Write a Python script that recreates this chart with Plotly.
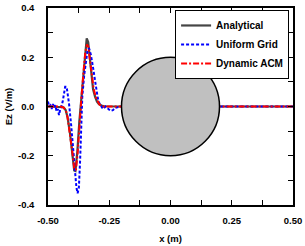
import plotly.graph_objects as go

# Analytical
x_analytical = [-0.50, -0.45, -0.437, -0.428, -0.42, -0.41, -0.40, -0.393, -0.388, -0.38, -0.372,
                -0.364, -0.356, -0.348, -0.342, -0.336, -0.330, -0.324, -0.316, -0.308, -0.300,
                -0.292, -0.282, -0.27, -0.20, 0.20, 0.50]
y_analytical = [0.0, 0.0, -0.003, -0.014, -0.045, -0.11, -0.20, -0.26, -0.262, -0.18, -0.06,
                0.03, 0.14, 0.24, 0.277, 0.262, 0.20, 0.13, 0.07, 0.04, 0.02,
                0.01, 0.004, 0.001, 0.0, 0.0, 0.0]

# Uniform Grid
x_uniform = [-0.50, -0.495, -0.49, -0.485, -0.48, -0.475, -0.47, -0.465, -0.46, -0.455, -0.45,
             -0.445, -0.44, -0.435, -0.43, -0.424, -0.419, -0.414, -0.405, -0.397, -0.39,
             -0.384, -0.379, -0.374, -0.369, -0.365, -0.36, -0.352, -0.344, -0.338, -0.332,
             -0.325, -0.318, -0.311, -0.304, -0.297, -0.29, -0.283, -0.275, -0.265, -0.255,
             -0.245, -0.235, -0.225, -0.20, 0.20, 0.50]
y_uniform = [0.02, 0.0, 0.005, -0.01, 0.01, -0.005, 0.005, -0.02, -0.01, -0.035, -0.01,
             0.0, 0.02, 0.06, 0.08, 0.08, 0.05, 0.01, -0.08, -0.18, -0.27,
             -0.33, -0.352, -0.33, -0.22, -0.08, 0.04, 0.13, 0.20, 0.232, 0.235,
             0.21, 0.17, 0.12, 0.07, 0.035, 0.012, 0.0, -0.01, 0.0, -0.01,
             -0.018, -0.015, -0.005, 0.0, 0.0, 0.0]

# Dynamic ACM
x_acm = [-0.50, -0.45, -0.437, -0.427, -0.42, -0.41, -0.40, -0.393, -0.386, -0.379, -0.372,
         -0.364, -0.356, -0.348, -0.341, -0.335, -0.329, -0.322, -0.314, -0.306, -0.298,
         -0.29, -0.28, -0.27, -0.20, 0.20, 0.50]
y_acm = [0.0, 0.0, -0.004, -0.015, -0.045, -0.11, -0.19, -0.25, -0.258, -0.19, -0.07,
         0.03, 0.13, 0.22, 0.252, 0.24, 0.19, 0.13, 0.075, 0.04, 0.02,
         0.008, 0.002, 0.0, 0.0, 0.0, 0.0]

x_tickvals = [-0.50, -0.25, 0.00, 0.25, 0.50]
x_ticktext = ["-0.50", "-0.25", "0.00", "0.25", "0.50"]
y_tickvals = [0.4, 0.2, 0.0, -0.2, -0.4]
y_ticktext = ["0.4", "0.2", "0.0", "-0.2", "-0.4"]

# cylinder cross-section (center, radius) in data units
circle_center = (0.0, 0.0)
circle_radius = 0.2

font_family = "Liberation Sans, Arial, sans-serif"

fig = go.Figure()
fig.add_trace(go.Scatter(x=x_analytical, y=y_analytical, mode="lines", name="Analytical",
                         line=dict(color="#454545", width=2.2)))
fig.add_trace(go.Scatter(x=x_uniform, y=y_uniform, mode="lines", name="Uniform Grid",
                         line=dict(color="#0000ff", width=2, dash="3px,2px")))
fig.add_trace(go.Scatter(x=x_acm, y=y_acm, mode="lines", name="Dynamic ACM",
                         line=dict(color="#ff0000", width=2, dash="6px,2px,2px,2px")))

fig.add_shape(type="circle", xref="x", yref="y",
              x0=circle_center[0] - circle_radius, x1=circle_center[0] + circle_radius,
              y0=circle_center[1] - circle_radius, y1=circle_center[1] + circle_radius,
              fillcolor="#c0c0c0", line=dict(color="black", width=1.5), layer="above")

axis_common = dict(showline=True, linecolor="black", linewidth=1.5, mirror="allticks",
                   ticks="inside", ticklen=5, tickwidth=1, tickcolor="black",
                   showgrid=False, zeroline=False, automargin=False,
                   tickfont=dict(family=font_family, size=9.5, color="black", weight="bold"))

fig.update_xaxes(range=[-0.5, 0.5], tickvals=x_tickvals, ticktext=x_ticktext,
                 minor=dict(ticks="inside", ticklen=5, dtick=0.125, tickcolor="black"),
                 title=dict(text="<b>x (m)</b>", font=dict(family=font_family, size=9.5, color="black"),
                            standoff=10),
                 ticklabelstandoff=6, **axis_common)
fig.update_yaxes(range=[-0.4, 0.4], tickvals=y_tickvals, ticktext=y_ticktext,
                 minor=dict(ticks="inside", ticklen=5, dtick=0.1, tickcolor="black"),
                 title=dict(text="<b>Ez (V/m)</b>", font=dict(family=font_family, size=9.5, color="black"),
                            standoff=4),
                 ticklabelstandoff=10, **axis_common)

fig.update_layout(width=305, height=246, margin=dict(l=48, r=12, t=8, b=41),
                  plot_bgcolor="white", paper_bgcolor="white",
                  legend=dict(x=0.984, y=0.99, xanchor="right", yanchor="top",
                              bordercolor="black", borderwidth=1, bgcolor="white",
                              font=dict(family=font_family, size=10, color="black", weight="bold"),
                              tracegroupgap=0, itemwidth=30))

fig.write_html("out.html", config={"displayModeBar": False},
               post_script="document.body.style.margin='0';document.body.style.overflow='hidden';")
